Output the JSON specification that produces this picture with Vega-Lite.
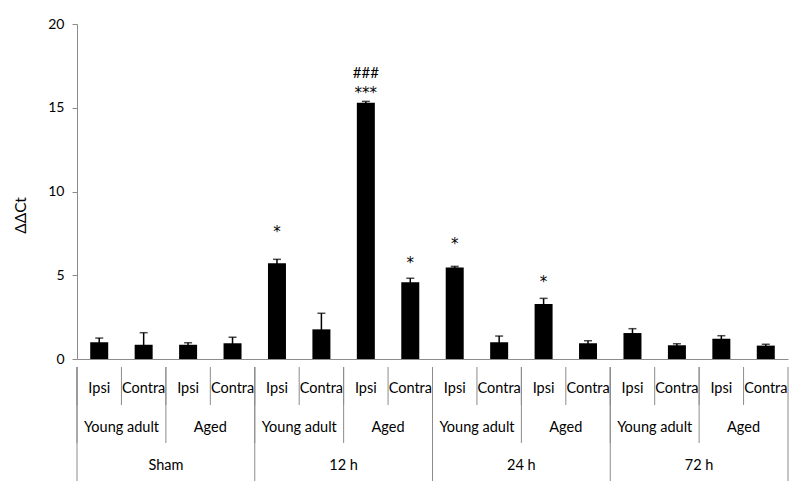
{
  "$schema": "https://vega.github.io/schema/vega-lite/v6.json",
  "padding": {"left": 13, "top": 17, "right": 10, "bottom": 0},
  "background": "white",
  "config": {"font": "Lato", "view": {"stroke": null}, "concat": {"spacing": 0}},
  "datasets": {
    "bars": [
      {"key": "Sham YA Ipsi", "time": "Sham", "age": "Young adult", "side": "Ipsi", "value": 1.0, "err": 0.25},
      {"key": "Sham YA Contra", "time": "Sham", "age": "Young adult", "side": "Contra", "value": 0.85, "err": 0.72},
      {"key": "Sham Aged Ipsi", "time": "Sham", "age": "Aged", "side": "Ipsi", "value": 0.85, "err": 0.12},
      {"key": "Sham Aged Contra", "time": "Sham", "age": "Aged", "side": "Contra", "value": 0.94, "err": 0.36},
      {"key": "12h YA Ipsi", "time": "12 h", "age": "Young adult", "side": "Ipsi", "value": 5.71, "err": 0.24},
      {"key": "12h YA Contra", "time": "12 h", "age": "Young adult", "side": "Contra", "value": 1.77, "err": 0.96},
      {"key": "12h Aged Ipsi", "time": "12 h", "age": "Aged", "side": "Ipsi", "value": 15.3, "err": 0.08},
      {"key": "12h Aged Contra", "time": "12 h", "age": "Aged", "side": "Contra", "value": 4.58, "err": 0.24},
      {"key": "24h YA Ipsi", "time": "24 h", "age": "Young adult", "side": "Ipsi", "value": 5.47, "err": 0.06},
      {"key": "24h YA Contra", "time": "24 h", "age": "Young adult", "side": "Contra", "value": 1.0, "err": 0.37},
      {"key": "24h Aged Ipsi", "time": "24 h", "age": "Aged", "side": "Ipsi", "value": 3.28, "err": 0.34},
      {"key": "24h Aged Contra", "time": "24 h", "age": "Aged", "side": "Contra", "value": 0.94, "err": 0.15},
      {"key": "72h YA Ipsi", "time": "72 h", "age": "Young adult", "side": "Ipsi", "value": 1.55, "err": 0.26},
      {"key": "72h YA Contra", "time": "72 h", "age": "Young adult", "side": "Contra", "value": 0.82, "err": 0.09},
      {"key": "72h Aged Ipsi", "time": "72 h", "age": "Aged", "side": "Ipsi", "value": 1.21, "err": 0.18},
      {"key": "72h Aged Contra", "time": "72 h", "age": "Aged", "side": "Contra", "value": 0.8, "err": 0.08}
    ],
    "notes": [
      {"key": "12h YA Ipsi", "label": "*", "y": 7.8},
      {"key": "12h Aged Ipsi", "label": "***", "y": 16.1},
      {"key": "12h Aged Ipsi", "label": "###", "y": 17.06},
      {"key": "12h Aged Contra", "label": "*", "y": 5.97},
      {"key": "24h YA Ipsi", "label": "*", "y": 7.1},
      {"key": "24h Aged Ipsi", "label": "*", "y": 4.82}
    ]
  },
  "vconcat": [
    {
      "width": 711,
      "height": 335,
      "layer": [
        {
          "data": {"name": "bars"},
          "mark": {"type": "bar", "color": "black"},
          "encoding": {
            "x": {
              "field": "key", "type": "nominal",
              "scale": {
                "domain": ["Sham YA Ipsi","Sham YA Contra","Sham Aged Ipsi","Sham Aged Contra","12h YA Ipsi","12h YA Contra","12h Aged Ipsi","12h Aged Contra","24h YA Ipsi","24h YA Contra","24h Aged Ipsi","24h Aged Contra","72h YA Ipsi","72h YA Contra","72h Aged Ipsi","72h Aged Contra"],
                "paddingInner": 0.595, "paddingOuter": 0.2975
              },
              "axis": {"title": null, "labels": false, "ticks": false, "domain": true, "domainColor": "#8c8c8c", "domainWidth": 1}
            },
            "y": {
              "field": "value", "type": "quantitative",
              "scale": {"domain": [0, 20], "nice": false},
              "axis": {
                "title": "ΔΔCt", "values": [0, 5, 10, 15, 20], "grid": false,
                "domainColor": "#8c8c8c", "tickColor": "#8c8c8c", "tickSize": 5,
                "labelFontSize": 14, "labelColor": "black", "labelPadding": 8,
                "titleFontSize": 15.5, "titleFontWeight": "normal", "titleColor": "black",
                "titleX": -57, "titleY": 191, "titleAngle": -90, "titleAlign": "center", "titleBaseline": "middle"
              }
            }
          }
        },
        {
          "data": {"name": "bars"},
          "mark": {"type": "errorbar", "color": "black", "ticks": {"size": 8, "thickness": 1.5, "color": "black"}, "rule": {"strokeWidth": 1.5, "color": "black"}},
          "encoding": {
            "x": {"field": "key", "type": "nominal"},
            "y": {"field": "value", "type": "quantitative", "title": "ΔΔCt"},
            "yError": {"field": "err"}
          }
        },
        {
          "data": {"name": "notes"},
          "transform": [{"filter": "datum.label !== '###'"}],
          "mark": {"type": "text", "font": "DejaVu Sans", "fontSize": 15, "color": "black", "baseline": "alphabetic", "dy": 9},
          "encoding": {
            "x": {"field": "key", "type": "nominal"},
            "y": {"field": "y", "type": "quantitative", "title": "ΔΔCt"},
            "text": {"field": "label"}
          }
        },
        {
          "data": {"name": "notes"},
          "transform": [{"filter": "datum.label === '###'"}],
          "mark": {"type": "text", "fontSize": 15, "color": "black", "baseline": "alphabetic", "dy": 5},
          "encoding": {
            "x": {"field": "key", "type": "nominal"},
            "y": {"field": "y", "type": "quantitative", "title": "ΔΔCt"},
            "text": {"field": "label"}
          }
        }
      ]
    },
    {
      "width": 711,
      "height": 114,
      "data": {"name": "bars"},
      "encoding": {
        "x": {
          "field": "key", "type": "nominal",
          "scale": {
            "domain": ["Sham YA Ipsi","Sham YA Contra","Sham Aged Ipsi","Sham Aged Contra","12h YA Ipsi","12h YA Contra","12h Aged Ipsi","12h Aged Contra","24h YA Ipsi","24h YA Contra","24h Aged Ipsi","24h Aged Contra","72h YA Ipsi","72h YA Contra","72h Aged Ipsi","72h Aged Contra"],
            "paddingInner": 0, "paddingOuter": 0
          },
          "axis": null
        }
      },
      "layer": [
        {
          "mark": {"type": "rule", "color": "#8c8c8c", "strokeWidth": 1},
          "encoding": {
            "x": {"field": "key", "type": "nominal", "bandPosition": 0},
            "y": {"datum": 0, "type": "quantitative", "scale": {"domain": [0, 3], "reverse": true, "nice": false}, "axis": null},
            "y2": {"datum": 1}
          }
        },
        {
          "transform": [{"filter": "datum.side === 'Ipsi'"}],
          "mark": {"type": "rule", "color": "#8c8c8c", "strokeWidth": 1},
          "encoding": {
            "x": {"field": "key", "type": "nominal", "bandPosition": 0},
            "y": {"datum": 0, "type": "quantitative"},
            "y2": {"datum": 2}
          }
        },
        {
          "transform": [{"filter": "datum.side === 'Ipsi' && datum.age === 'Young adult'"}],
          "mark": {"type": "rule", "color": "#8c8c8c", "strokeWidth": 1},
          "encoding": {
            "x": {"field": "key", "type": "nominal", "bandPosition": 0},
            "y": {"datum": 0, "type": "quantitative"},
            "y2": {"datum": 3}
          }
        },
        {
          "transform": [{"filter": "datum.key === '72h Aged Contra'"}],
          "mark": {"type": "rule", "color": "#8c8c8c", "strokeWidth": 1},
          "encoding": {
            "x": {"field": "key", "type": "nominal", "bandPosition": 1},
            "y": {"datum": 0, "type": "quantitative"},
            "y2": {"datum": 3}
          }
        },
        {
          "mark": {"type": "text", "fontSize": 14.5, "color": "black", "baseline": "middle", "dy": 3},
          "encoding": {
            "x": {"field": "key", "type": "nominal", "bandPosition": 0.5},
            "y": {"datum": 0.5, "type": "quantitative"},
            "text": {"field": "side"}
          }
        },
        {
          "transform": [{"filter": "datum.side === 'Ipsi'"}],
          "mark": {"type": "text", "fontSize": 14.5, "color": "black", "baseline": "middle", "dy": 4},
          "encoding": {
            "x": {"field": "key", "type": "nominal", "bandPosition": 1},
            "y": {"datum": 1.5, "type": "quantitative"},
            "text": {"field": "age"}
          }
        },
        {
          "transform": [{"filter": "datum.side === 'Contra' && datum.age === 'Young adult'"}],
          "mark": {"type": "text", "fontSize": 14.5, "color": "black", "baseline": "middle", "dy": 4},
          "encoding": {
            "x": {"field": "key", "type": "nominal", "bandPosition": 1},
            "y": {"datum": 2.5, "type": "quantitative"},
            "text": {"field": "time"}
          }
        }
      ]
    }
  ]
}
